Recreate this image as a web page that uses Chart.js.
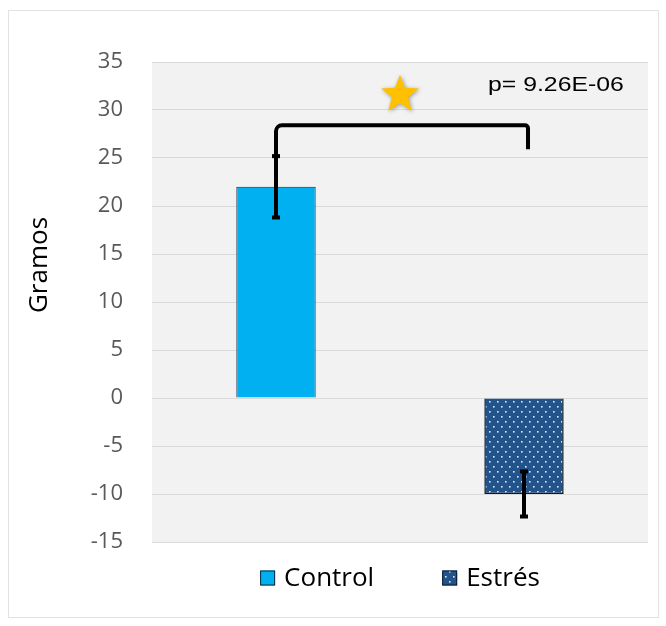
<!DOCTYPE html>
<html>
<head>
<meta charset="utf-8">
<script src="https://cdn.jsdelivr.net/npm/chart.js@4/dist/chart.umd.min.js"></script>
<style>
  html, body { margin: 0; padding: 0; background: #ffffff; }
  #wrap { width: 666px; height: 626px; position: relative; }
</style>
</head>
<body>
<div id="wrap"><canvas id="chart"></canvas></div>
<script>
// Weight change per group (grams) with error bars
const categories = ['Control', 'Estrés'];
const controlValues = [22, null];
const estresValues = [null, -10];
const errorValues = [3.3, 2.45];
const yTicks = { min: -15, max: 35, step: 5 };
const yTitle = 'Gramos';
const pLabel = 'p= 9.26E-06';
// significance bracket levels (in grams on the y axis)
const bracketLevel = 28.4;
const bracketRightFoot = 25.9;
const starLevel = 31.8;
const pLabelLevel = 32.6;

const FONT = '"Open Sans", sans-serif';

// dotted fill for the stress group
function dotPattern() {
  const c = document.createElement('canvas');
  c.width = 8; c.height = 10;
  const g = c.getContext('2d');
  g.fillStyle = '#22548b';
  g.fillRect(0, 0, 8, 10);
  g.fillStyle = 'rgba(230,240,255,0.95)';
  g.fillRect(1, 1, 1.6, 1.6);
  g.fillRect(5, 6, 1.6, 1.6);
  return g.createPattern(c, 'repeat');
}

const frameAndBackground = {
  id: 'frameAndBackground',
  beforeDraw(chart) {
    const { ctx, chartArea: a } = chart;
    ctx.save();
    ctx.fillStyle = '#ffffff';
    ctx.fillRect(0, 0, chart.width, chart.height);
    ctx.strokeStyle = '#e2e2e2';
    ctx.lineWidth = 1;
    ctx.strokeRect(8.5, 10.5, 650, 607);
    ctx.fillStyle = '#f2f2f2';
    ctx.fillRect(a.left, a.top, a.right - a.left, a.bottom - a.top);
    ctx.restore();
  }
};

const errorBars = {
  id: 'errorBars',
  afterDatasetsDraw(chart) {
    const { ctx, scales: { x, y } } = chart;
    const means = categories.map((_, i) => controlValues[i] ?? estresValues[i]);
    ctx.save();
    ctx.strokeStyle = '#000000';
    ctx.fillStyle = '#000000';
    ctx.lineWidth = 4;
    means.forEach((m, i) => {
      const px = x.getPixelForValue(i);
      const top = y.getPixelForValue(m + errorValues[i]);
      const bot = y.getPixelForValue(m - errorValues[i]);
      ctx.beginPath();
      ctx.moveTo(px, top);
      ctx.lineTo(px, bot);
      ctx.stroke();
      ctx.fillRect(px - 4, top - 1, 8, 4);
      ctx.fillRect(px - 4, bot - 3, 8, 4);
    });
    ctx.restore();
  }
};

const significance = {
  id: 'significance',
  afterDatasetsDraw(chart) {
    const { ctx, scales: { x, y } } = chart;
    const xl = x.getPixelForValue(0);
    const xr = x.getPixelForValue(1) + 4;
    const yStart = y.getPixelForValue(controlValues[0] + errorValues[0]);
    const yb = y.getPixelForValue(bracketLevel);
    const yf = y.getPixelForValue(bracketRightFoot);
    ctx.save();
    ctx.strokeStyle = '#000000';
    ctx.lineWidth = 4;
    ctx.lineJoin = 'round';
    ctx.beginPath();
    ctx.moveTo(xl, yStart);
    ctx.arcTo(xl, yb, xr, yb, 6);
    ctx.arcTo(xr, yb, xr, yf, 3);
    ctx.lineTo(xr, yf);
    ctx.stroke();

    // star
    const cx = (x.getPixelForValue(0) + x.getPixelForValue(1)) / 2;
    const cy = y.getPixelForValue(starLevel);
    const R = 20, r = 8.5;
    ctx.shadowColor = 'rgba(0,0,0,0.35)';
    ctx.shadowBlur = 4;
    ctx.shadowOffsetX = 1;
    ctx.shadowOffsetY = 1;
    ctx.fillStyle = '#ffc000';
    ctx.beginPath();
    for (let k = 0; k < 10; k++) {
      const rad = k % 2 === 0 ? R : r;
      const ang = -Math.PI / 2 + k * Math.PI / 5;
      const px = cx + rad * Math.cos(ang);
      const py = cy + 2 + rad * Math.sin(ang);
      if (k === 0) ctx.moveTo(px, py); else ctx.lineTo(px, py);
    }
    ctx.closePath();
    ctx.fill();
    ctx.shadowColor = 'transparent';

    // p value
    ctx.fillStyle = '#000000';
    ctx.font = '20px "Liberation Sans", Arial, sans-serif';
    ctx.textBaseline = 'middle';
    ctx.textAlign = 'left';
    ctx.translate(chart.chartArea.right - 160, y.getPixelForValue(pLabelLevel));
    ctx.scale(1.24, 1);
    ctx.fillText(pLabel, 0, 0);
    ctx.restore();
  }
};

// axis title and legend, placed by hand
const labelsPlugin = {
  id: 'labelsPlugin',
  afterDraw(chart) {
    const { ctx, chartArea: a } = chart;
    ctx.save();
    // y axis title
    ctx.fillStyle = '#000000';
    ctx.font = '26px ' + FONT;
    ctx.textAlign = 'center';
    ctx.textBaseline = 'middle';
    ctx.translate(40, 265);
    ctx.rotate(-Math.PI / 2);
    ctx.fillText(yTitle, 0, 0);
    ctx.restore();

    // legend
    ctx.save();
    ctx.font = '26px ' + FONT;
    ctx.textBaseline = 'middle';
    ctx.textAlign = 'left';
    const box = 15, gapText = 9, gapItem = 68;
    const items = chart.data.datasets.map(ds => ({
      text: ds.label, fill: ds.backgroundColor, stroke: ds.borderColor,
      w: box + gapText + ctx.measureText(ds.label).width
    }));
    const total = items.reduce((s, it) => s + it.w, 0) + gapItem * (items.length - 1);
    let lx = (a.left + a.right) / 2 - total / 2;
    const ly = a.bottom + 36;
    items.forEach(it => {
      ctx.fillStyle = it.fill;
      ctx.fillRect(lx, ly - box / 2, box, box);
      ctx.strokeStyle = it.stroke;
      ctx.lineWidth = 1;
      ctx.strokeRect(lx + 0.5, ly - box / 2 + 0.5, box - 1, box - 1);
      ctx.fillStyle = '#000000';
      ctx.fillText(it.text, lx + box + gapText, ly + 1);
      lx += it.w + gapItem;
    });
    ctx.restore();
  }
};

const ctx = document.getElementById('chart');
new Chart(ctx, {
  type: 'bar',
  data: {
    labels: categories,
    datasets: [
      {
        label: categories[0],
        data: controlValues,
        backgroundColor: '#00b0f0',
        borderColor: '#10283e',
        borderWidth: 1
      },
      {
        label: categories[1],
        data: estresValues,
        backgroundColor: dotPattern(),
        borderColor: '#0b1a2c',
        borderWidth: 1.5
      }
    ]
  },
  options: {
    responsive: true,
    maintainAspectRatio: false,
    animation: false,
    devicePixelRatio: 1,
    layout: { padding: { left: 20, right: 18, top: 62, bottom: 84 } },
    datasets: { bar: { grouped: false, barPercentage: 0.32, categoryPercentage: 1, skipNull: true } },
    scales: {
      x: {
        grid: { display: false, drawTicks: false },
        border: { display: false },
        ticks: { display: false }
      },
      y: {
        min: yTicks.min,
        max: yTicks.max,
        afterFit(scale) { scale.width = 132; },
        ticks: {
          stepSize: yTicks.step,
          padding: 29,
          color: '#595959',
          font: { family: FONT, size: 22 }
        },
        grid: { color: '#d9d9d9', lineWidth: 1, drawTicks: false },
        border: { display: false },
        title: { display: false }
      }
    },
    plugins: {
      legend: { display: false },
      tooltip: { enabled: false }
    }
  },
  plugins: [frameAndBackground, errorBars, significance, labelsPlugin]
});
</script>
</body>
</html>
